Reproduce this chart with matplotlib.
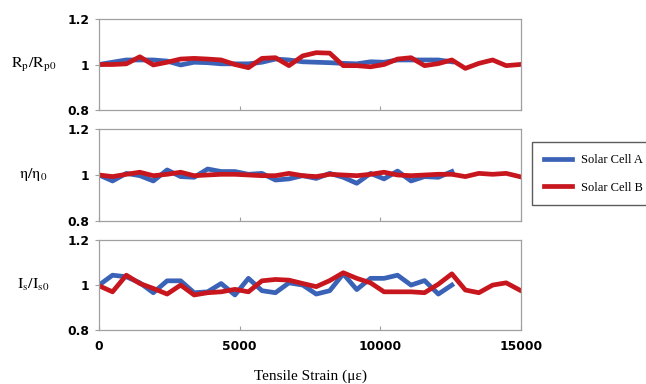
import matplotlib
matplotlib.use("Agg")
from matplotlib import pyplot as plt

# tensile strain levels (micro-strain)
strain = [0, 480, 970, 1450, 1930, 2420, 2900, 3380, 3860, 4340, 4830, 5310,
          5790, 6270, 6750, 7240, 7720, 8200, 8680, 9160, 9650, 10130, 10610,
          11090, 11570, 12060, 12540, 13020, 13500, 13990, 14470, 14950]
strain_a = strain[:27]
strain_b = strain

# Rp / Rp0
rp_a = [1.0, 1.01, 1.02, 1.02, 1.02, 1.015, 0.998, 1.01, 1.008, 1.003, 1.003,
        1.003, 1.01, 1.024, 1.02, 1.012, 1.01, 1.008, 1.005, 1.003, 1.012,
        1.01, 1.02, 1.02, 1.02, 1.02, 1.012]
rp_b = [1.0, 1.0, 1.003, 1.034, 0.998, 1.01, 1.024, 1.027, 1.024, 1.02, 1.0,
        0.986, 1.027, 1.03, 0.995, 1.038, 1.052, 1.05, 0.995, 0.995, 0.99,
        1.0, 1.024, 1.03, 0.995, 1.004, 1.02, 0.983, 1.005, 1.02, 0.995, 1.0]

# eta / eta0
eta_a = [1.0, 0.974, 1.007, 0.997, 0.974, 1.022, 0.993, 0.99, 1.026, 1.015,
         1.015, 1.003, 1.007, 0.978, 0.983, 0.997, 0.985, 1.007, 0.99, 0.964,
         1.007, 0.983, 1.017, 0.974, 0.993, 0.99, 1.015]
eta_b = [1.0, 0.993, 1.003, 1.012, 0.997, 1.003, 1.012, 0.997, 1.0, 1.003,
         1.003, 1.0, 0.997, 0.997, 1.007, 0.997, 0.993, 1.003, 1.0, 0.997,
         1.003, 1.012, 1.0, 0.997, 1.0, 1.003, 1.003, 0.993, 1.007, 1.003,
         1.007, 0.993]

# Is / Is0
is_a = [1.0, 1.044, 1.037, 1.01, 0.966, 1.019, 1.019, 0.966, 0.97, 1.007,
        0.956, 1.03, 0.975, 0.966, 1.01, 1.0, 0.96, 0.975, 1.05, 0.98, 1.03,
        1.03, 1.044, 1.0, 1.02, 0.96, 1.0]
is_b = [0.997, 0.97, 1.044, 1.007, 0.985, 0.96, 1.0, 0.956, 0.966, 0.97,
        0.981, 0.97, 1.019, 1.025, 1.022, 1.007, 0.993, 1.02, 1.055, 1.03,
        1.01, 0.97, 0.97, 0.97, 0.966, 1.004, 1.05, 0.978, 0.966, 1.0, 1.01,
        0.978]

ylabels = [r"$\mathrm{R_p/R_{p0}}$", r"$\mathrm{η/η_0}$", r"$\mathrm{I_s/I_{s0}}$"]
series = [(rp_a, rp_b), (eta_a, eta_b), (is_a, is_b)]

blue = "#3a62b6"
red = "#c8161e"
plt.rcParams["mathtext.fontset"] = "stix"

fig = plt.figure(figsize=(6.46, 3.84), dpi=100)
boxes = [(0.7135, 0.237), (0.4245, 0.2396), (0.1406, 0.234)]

for i, (bottom, height) in enumerate(boxes):
    ax = fig.add_axes([0.1533, bottom, 0.6533, height])
    a, b = series[i]
    la, = ax.plot(strain_a, a, color=blue, lw=3.4, label="Solar Cell A")
    lb, = ax.plot(strain_b, b, color=red, lw=3.4, label="Solar Cell B")
    ax.set_xlim(0, 15000)
    ax.set_ylim(0.8, 1.2)
    ax.set_yticks([0.8, 1.0, 1.2])
    ax.set_yticklabels(["0.8", "1", "1.2"])
    ax.set_xticks([0, 5000, 10000, 15000])
    for s in ax.spines.values():
        s.set_color("#a0a0a0")
        s.set_linewidth(0.9)
    ax.tick_params(axis="x", direction="in", length=3, color="#a0a0a0", pad=7)
    ax.tick_params(axis="y", direction="out", length=3, color="#a0a0a0", pad=4)
    for t in ax.get_yticklabels() + ax.get_xticklabels():
        t.set_fontweight("bold")
        t.set_fontsize(8.8)
    ax.set_ylabel(ylabels[i], rotation=0, fontsize=11.5, ha="center", va="center")
    ax.yaxis.set_label_coords(-0.155, 0.5)
    if i < 2:
        ax.set_xticklabels([])
    else:
        ax.set_xlabel("Tensile Strain (με)", fontsize=11,
                      family="Liberation Serif", labelpad=12)

fig.legend(handles=[la, lb], loc="upper left", bbox_to_anchor=(0.823, 0.63),
           prop={"family": "Liberation Serif", "size": 9}, frameon=True,
           fancybox=False, edgecolor="#333333", handlelength=2.3,
           handletextpad=0.7, labelspacing=1.25, borderpad=0.95,
           borderaxespad=0)

fig.savefig("out.png", dpi=100)
